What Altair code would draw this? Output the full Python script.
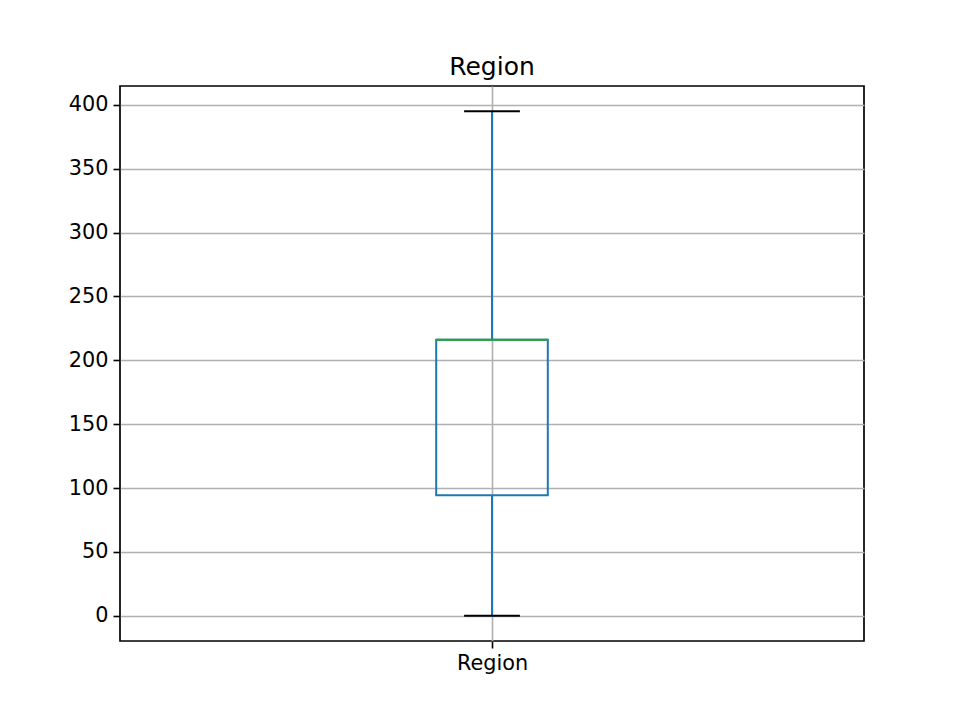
import altair as alt
import pandas as pd

categories = ["Region"]
positions = [1]
whisker_low = [0]
q1 = [94.3]
median = [216.0]
q3 = [216.0]
whisker_high = [395]

df = pd.DataFrame({
    "cat": categories,
    "pos": positions,
    "lo": whisker_low,
    "q1": q1,
    "med": median,
    "q3": q3,
    "hi": whisker_high,
})

FONT = "DejaVu Sans"
LW = 2.0
xscale = alt.Scale(domain=[0.5, 1.5], nice=False, zero=False)
yscale = alt.Scale(domain=[-19.75, 414.75], nice=False, zero=False)

base = alt.Chart(df).transform_calculate(
    bx0="datum.pos - 0.075", bx1="datum.pos + 0.075",
    cx0="datum.pos - 0.0375", cx1="datum.pos + 0.0375",
)

xaxis = alt.Axis(values=[1], labelExpr="'Region'", title=None)
yaxis = alt.Axis(values=list(range(0, 401, 50)), title=None)

lower_whisker = base.mark_rule(color="#1f77b4", strokeWidth=LW).encode(
    x=alt.X("pos:Q", scale=xscale, axis=xaxis),
    y=alt.Y("lo:Q", scale=yscale, axis=yaxis),
    y2="q1:Q",
)
upper_whisker = base.mark_rule(color="#1f77b4", strokeWidth=LW).encode(
    x=alt.X("pos:Q", scale=xscale),
    y=alt.Y("q3:Q", scale=yscale),
    y2="hi:Q",
)
box = base.mark_rect(fillOpacity=0, stroke="#1f77b4", strokeWidth=LW).encode(
    x=alt.X("bx0:Q", scale=xscale),
    x2="bx1:Q",
    y=alt.Y("q1:Q", scale=yscale),
    y2="q3:Q",
)
med_line = base.mark_rule(color="#2ca02c", strokeWidth=LW).encode(
    x=alt.X("bx0:Q", scale=xscale),
    x2="bx1:Q",
    y=alt.Y("med:Q", scale=yscale),
)
cap_lo = base.mark_rule(color="black", strokeWidth=LW).encode(
    x=alt.X("cx0:Q", scale=xscale),
    x2="cx1:Q",
    y=alt.Y("lo:Q", scale=yscale),
)
cap_hi = base.mark_rule(color="black", strokeWidth=LW).encode(
    x=alt.X("cx0:Q", scale=xscale),
    x2="cx1:Q",
    y=alt.Y("hi:Q", scale=yscale),
)

chart = alt.layer(lower_whisker, upper_whisker, box, med_line, cap_lo, cap_hi).properties(
    width=744,
    height=555,
    title=alt.TitleParams("Region", font=FONT, fontSize=25, fontWeight="normal",
                          color="black", offset=6, anchor="middle"),
    autosize=alt.AutoSizeParams(type="none"),
    padding={"left": 120, "top": 86, "right": 96, "bottom": 79},
    background="white",
).configure_view(
    stroke="black", strokeWidth=1.7
).configure_axis(
    grid=True, gridColor="#b0b0b0", gridWidth=1.6, domain=False,
    tickColor="black", tickSize=7, tickWidth=1.6,
    labelFont=FONT, labelFontSize=20.8, labelColor="black", labelPadding=5,
)

chart.save("out.html", embed_options={"renderer": "svg", "actions": False})
